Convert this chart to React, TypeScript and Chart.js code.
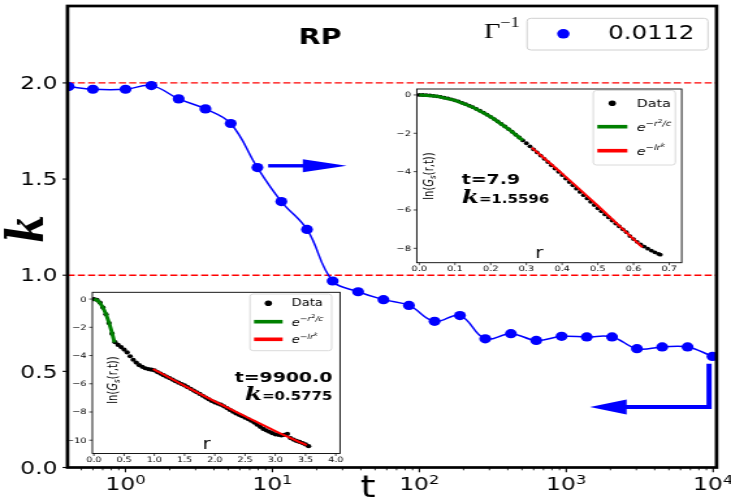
import React, { useEffect, useRef } from "react";
import { Chart, registerables } from "chart.js";
Chart.register(...registerables);

const CSS_W = 731;
const CSS_H = 499;
const W = 562;
const H = 499;
const SANS = "'DejaVu Sans', sans-serif";
const SERIF = "'DejaVu Serif', serif";
const TIMES = "'Liberation Serif', serif";

// ---------------- main panel data ----------------
const times = [0.41, 0.6, 1.0, 1.5, 2.3, 3.5, 5.2, 7.9, 11.5, 17.2, 25.7, 38.3, 57, 85, 127, 189, 281, 420, 625, 930, 1380, 2050, 3030, 4500, 6700, 9900];
const kValues = [1.981, 1.967, 1.967, 1.986, 1.917, 1.865, 1.789, 1.5596, 1.383, 1.238, 0.97, 0.914, 0.873, 0.843, 0.76, 0.79, 0.669, 0.696, 0.661, 0.682, 0.679, 0.679, 0.618, 0.627, 0.627, 0.5775];
const seriesLabel = "0.0112";
const refLevels = [2.0, 1.0];
const mainYTicks = [0, 0.5, 1.0, 1.5, 2.0];
const mainYLabels = ["0.0", "0.5", "1.0", "1.5", "2.0"];
const mainXTicks = [1, 10, 100, 1000, 10000];
const mainXExps = ["0", "1", "2", "3", "4"];
const arrowRight = { t0: 9.35, tBase: 16.1, tTip: 32.0, k: 1.569 };
const arrowBack = { t: 9380, kTop: 0.54, kBottom: 0.314, tBase: 2575, tTip: 1450 };

// ---------------- inset 1 (t = 7.9) ----------------
const in1R = [0, 0.01, 0.02, 0.03, 0.04, 0.05, 0.06, 0.07, 0.08, 0.09, 0.1, 0.11, 0.12, 0.13, 0.14, 0.15, 0.16, 0.17, 0.18, 0.19, 0.2, 0.21, 0.22, 0.23, 0.24, 0.25, 0.26, 0.27, 0.28, 0.29, 0.3, 0.31, 0.32, 0.33, 0.34, 0.35, 0.36, 0.37, 0.38, 0.39, 0.4, 0.41, 0.42, 0.43, 0.44, 0.45, 0.46, 0.47, 0.48, 0.49, 0.5, 0.51, 0.52, 0.53, 0.54, 0.55, 0.56, 0.57, 0.58, 0.59, 0.6, 0.61, 0.62, 0.63, 0.64, 0.65, 0.66, 0.67, 0.675];
const in1G = [0, -0.003, -0.011, -0.026, -0.045, -0.071, -0.1, -0.14, -0.18, -0.23, -0.28, -0.34, -0.41, -0.48, -0.56, -0.64, -0.73, -0.82, -0.92, -1.03, -1.14, -1.26, -1.38, -1.51, -1.64, -1.78, -1.92, -2.07, -2.22, -2.37, -2.52, -2.68, -2.84, -3.0, -3.16, -3.33, -3.5, -3.67, -3.84, -4.01, -4.18, -4.36, -4.54, -4.71, -4.89, -5.06, -5.23, -5.4, -5.57, -5.74, -5.91, -6.07, -6.23, -6.39, -6.55, -6.71, -6.86, -7.01, -7.16, -7.36, -7.52, -7.66, -7.79, -7.91, -8.02, -8.12, -8.21, -8.29, -8.33];
const in1GaussR = [0, 0.05, 0.1, 0.15, 0.2, 0.25, 0.29];
const in1GaussG = [0, -0.07, -0.28, -0.64, -1.14, -1.78, -2.37];
const in1StretchR = [0.315, 0.4, 0.5, 0.625];
const in1StretchG = [-2.75, -4.1, -5.78, -7.95];
const in1XTicks = [0, 0.1, 0.2, 0.3, 0.4, 0.5, 0.6, 0.7];
const in1XLabels = ["0.0", "0.1", "0.2", "0.3", "0.4", "0.5", "0.6", "0.7"];
const in1YTicks = [0, -2, -4, -6, -8];
const in1YLabels = ["0", "\u22122", "\u22124", "\u22126", "\u22128"];
const in1Time = "t=7.9";
const in1K = "=1.5596";

// ---------------- inset 2 (t = 9900) ----------------
const in2R = [0, 0.05, 0.1, 0.15, 0.2, 0.25, 0.3, 0.35, 0.4, 0.45, 0.5, 0.55, 0.6, 0.65, 0.7, 0.75, 0.8, 0.85, 0.9, 0.95, 1.0, 1.05, 1.1, 1.15, 1.2, 1.25, 1.3, 1.35, 1.4, 1.45, 1.5, 1.55, 1.6, 1.65, 1.7, 1.75, 1.8, 1.85, 1.9, 1.95, 2.0, 2.05, 2.1, 2.15, 2.2, 2.25, 2.3, 2.35, 2.4, 2.45, 2.5, 2.55, 2.6, 2.65, 2.7, 2.75, 2.8, 2.85, 2.9, 2.95, 3.0, 3.05, 3.1, 3.15, 3.2, 3.25, 3.3, 3.35, 3.4, 3.45, 3.5, 3.55];
const in2G = [0, -0.05, -0.25, -0.6, -1.08, -1.7, -2.45, -3.05, -3.25, -3.4, -3.58, -3.78, -4.05, -4.3, -4.5, -4.68, -4.8, -4.9, -4.96, -5.0, -5.05, -5.17, -5.28, -5.39, -5.5, -5.6, -5.7, -5.82, -5.92, -6.02, -6.12, -6.24, -6.36, -6.48, -6.6, -6.72, -6.85, -6.98, -7.1, -7.22, -7.32, -7.4, -7.48, -7.6, -7.72, -7.85, -7.98, -8.1, -8.2, -8.3, -8.4, -8.5, -8.62, -8.75, -8.9, -9.05, -9.2, -9.3, -9.4, -9.5, -9.58, -9.62, -9.66, -9.62, -9.55, -9.85, -9.95, -10.05, -10.12, -10.2, -10.3, -10.42];
const in2GaussR = [0, 0.05, 0.1, 0.15, 0.2, 0.25, 0.3, 0.34];
const in2GaussG = [0, -0.07, -0.27, -0.6, -1.06, -1.66, -2.39, -3.07];
const in2StretchR = [0.98, 1.5, 2.0, 2.5, 3.0, 3.52];
const in2StretchG = [-4.95, -6.15, -7.25, -8.3, -9.35, -10.35];
const in2XTicks = [0, 0.5, 1, 1.5, 2, 2.5, 3, 3.5, 4];
const in2XLabels = ["0.0", "0.5", "1.0", "1.5", "2.0", "2.5", "3.0", "3.5", "4.0"];
const in2YTicks = [0, -2, -4, -6, -8, -10];
const in2YLabels = ["0", "\u22122", "\u22124", "\u22126", "\u22128", "\u221210"];
const in2Time = "t=9900.0";
const in2K = "=0.5775";

type Part = { s: string; font: string; dy?: number };

function partsWidth(ctx: CanvasRenderingContext2D, parts: Part[]) {
  let w = 0;
  for (const p of parts) {
    ctx.font = p.font;
    w += ctx.measureText(p.s).width;
  }
  return w;
}

function drawParts(ctx: CanvasRenderingContext2D, parts: Part[], x: number, y: number, align: "left" | "center" | "right") {
  const w = partsWidth(ctx, parts);
  let cx = align === "center" ? x - w / 2 : align === "right" ? x - w : x;
  ctx.textAlign = "left";
  for (const p of parts) {
    ctx.font = p.font;
    ctx.fillText(p.s, cx, y + (p.dy || 0));
    cx += ctx.measureText(p.s).width;
  }
}

function roundRect(ctx: CanvasRenderingContext2D, x: number, y: number, w: number, h: number, r: number) {
  ctx.beginPath();
  ctx.moveTo(x + r, y);
  ctx.lineTo(x + w - r, y);
  ctx.quadraticCurveTo(x + w, y, x + w, y + r);
  ctx.lineTo(x + w, y + h - r);
  ctx.quadraticCurveTo(x + w, y + h, x + w - r, y + h);
  ctx.lineTo(x + r, y + h);
  ctx.quadraticCurveTo(x, y + h, x, y + h - r);
  ctx.lineTo(x, y + r);
  ctx.quadraticCurveTo(x, y, x + r, y);
  ctx.closePath();
}

const mainPlugin = {
  id: "mainDeco",
  beforeDatasetsDraw(chart: any) {
    const { ctx, chartArea: a, scales } = chart;
    ctx.save();
    ctx.beginPath();
    ctx.rect(a.left, a.top, a.right - a.left, a.bottom - a.top);
    ctx.clip();
    ctx.strokeStyle = "#ff0000";
    ctx.lineWidth = 1.4;
    ctx.setLineDash([5.5, 2.4]);
    for (const v of refLevels) {
      const py = scales.y.getPixelForValue(v);
      ctx.beginPath();
      ctx.moveTo(a.left, py);
      ctx.lineTo(a.right, py);
      ctx.stroke();
    }
    ctx.restore();
  },
  afterDatasetsDraw(chart: any) {
    const { ctx, scales } = chart;
    const x = scales.x;
    const y = scales.y;
    ctx.save();
    ctx.fillStyle = "#0000ff";
    ctx.strokeStyle = "#0000ff";
    const ay = y.getPixelForValue(arrowRight.k);
    const x0 = x.getPixelForValue(arrowRight.t0);
    const xb = x.getPixelForValue(arrowRight.tBase);
    const xt = x.getPixelForValue(arrowRight.tTip);
    ctx.lineWidth = 3.4;
    ctx.beginPath();
    ctx.moveTo(x0, ay);
    ctx.lineTo(xb + 1, ay);
    ctx.stroke();
    ctx.beginPath();
    ctx.moveTo(xb, ay - 6.5);
    ctx.lineTo(xt, ay);
    ctx.lineTo(xb, ay + 6.5);
    ctx.closePath();
    ctx.fill();
    const vx = x.getPixelForValue(arrowBack.t);
    const yT = y.getPixelForValue(arrowBack.kTop);
    const yB = y.getPixelForValue(arrowBack.kBottom);
    const hb = x.getPixelForValue(arrowBack.tBase);
    const ht = x.getPixelForValue(arrowBack.tTip);
    ctx.lineWidth = 4;
    ctx.lineJoin = "miter";
    ctx.beginPath();
    ctx.moveTo(vx, yT);
    ctx.lineTo(vx, yB);
    ctx.lineTo(hb - 1, yB);
    ctx.stroke();
    ctx.beginPath();
    ctx.moveTo(hb, yB - 7.5);
    ctx.lineTo(ht, yB);
    ctx.lineTo(hb, yB + 7.5);
    ctx.closePath();
    ctx.fill();
    ctx.restore();
  },
  afterDraw(chart: any) {
    const { ctx, chartArea: a, scales } = chart;
    const x = scales.x;
    const y = scales.y;
    ctx.save();
    ctx.fillStyle = "#000";
    ctx.strokeStyle = "#000";
    ctx.lineWidth = 2.7;
    ctx.strokeRect(a.left, a.top, a.right - a.left, a.bottom - a.top);
    ctx.lineWidth = 1.1;
    ctx.font = `18px ${SANS}`;
    ctx.textAlign = "right";
    ctx.textBaseline = "middle";
    mainYTicks.forEach((v, i) => {
      const py = y.getPixelForValue(v);
      ctx.beginPath();
      ctx.moveTo(a.left - 3.8, py);
      ctx.lineTo(a.left, py);
      ctx.stroke();
      ctx.fillText(mainYLabels[i], a.left - 7.8, py + 1.5);
    });
    ctx.textBaseline = "alphabetic";
    for (let d = 0.1; d <= 10000; d *= 10) {
      for (let m = 2; m <= 9; m++) {
        const v = d * m;
        if (v < x.min || v > x.max) continue;
        const px = x.getPixelForValue(v);
        ctx.lineWidth = 0.8;
        ctx.beginPath();
        ctx.moveTo(px, a.bottom);
        ctx.lineTo(px, a.bottom + 2.8);
        ctx.stroke();
      }
    }
    mainXTicks.forEach((v, i) => {
      const px = x.getPixelForValue(v);
      ctx.lineWidth = 1.1;
      ctx.beginPath();
      ctx.moveTo(px, a.bottom);
      ctx.lineTo(px, a.bottom + 4.8);
      ctx.stroke();
      drawParts(ctx, [
        { s: "10", font: `18px ${SANS}` },
        { s: mainXExps[i], font: `12.6px ${SANS}`, dy: -5.7 },
      ], px, 490, "center");
    });
    ctx.font = `30px ${SANS}`;
    ctx.textAlign = "center";
    ctx.fillText("t", 283, 497);
    ctx.save();
    ctx.translate(22.5, 229);
    ctx.rotate(-Math.PI / 2);
    ctx.font = `bold italic 40px ${SERIF}`;
    ctx.textBaseline = "middle";
    ctx.fillText("k", 0, 0);
    ctx.restore();
    ctx.font = `bold 22px ${SANS}`;
    ctx.textAlign = "center";
    ctx.textBaseline = "middle";
    ctx.fillText("RP", 246, 38);
    ctx.textBaseline = "alphabetic";
    roundRect(ctx, 405.2, 18.3, 139.1, 31.7, 3);
    ctx.fillStyle = "rgba(255,255,255,0.8)";
    ctx.fill();
    ctx.strokeStyle = "#d0d0d0";
    ctx.lineWidth = 1;
    ctx.stroke();
    ctx.fillStyle = "#0000ff";
    ctx.beginPath();
    ctx.arc(433.1, 33.8, 4.8, 0, Math.PI * 2);
    ctx.fill();
    ctx.fillStyle = "#000";
    ctx.font = `19px ${SANS}`;
    ctx.textAlign = "left";
    ctx.textBaseline = "middle";
    ctx.fillText(seriesLabel, 467.4, 34.5);
    ctx.textBaseline = "alphabetic";
    drawParts(ctx, [
      { s: "\u0393", font: `22px ${TIMES}` },
      { s: "\u22121", font: `14px ${TIMES}`, dy: -10.5 },
    ], 372, 37.5, "left");
    ctx.restore();
  },
};

type InsetCfg = {
  id: string;
  xTicks: number[];
  xLabels: string[];
  yTicks: number[];
  yLabels: string[];
  tickFont: number;
  rLabel: [number, number];
  lnLabel: [number, number];
  legend: { x: number; y: number; w: number; h: number; rows: number[]; mx: number; lx0: number; lx1: number; tx: number; font: number };
  tText: { s: string; x: number; y: number; align: "left" | "right"; font: number };
  kText: { s: string; x: number; y: number; kFont: number; vFont: number; align: "left" | "right" };
};

function makeInsetPlugin(c: InsetCfg) {
  return {
    id: c.id,
    beforeDatasetsDraw(chart: any) {
      const { ctx, chartArea: a } = chart;
      ctx.save();
      ctx.fillStyle = "#fff";
      ctx.fillRect(a.left, a.top, a.right - a.left, a.bottom - a.top);
      ctx.restore();
    },
    afterDraw(chart: any) {
      const { ctx, chartArea: a, scales } = chart;
      const x = scales.x;
      const y = scales.y;
      ctx.save();
      ctx.strokeStyle = "#000";
      ctx.fillStyle = "#000";
      ctx.lineWidth = 0.9;
      ctx.strokeRect(a.left, a.top, a.right - a.left, a.bottom - a.top);
      ctx.font = `${c.tickFont}px ${SANS}`;
      ctx.lineWidth = 0.7;
      ctx.textAlign = "center";
      ctx.textBaseline = "top";
      c.xTicks.forEach((v, i) => {
        const px = x.getPixelForValue(v);
        ctx.beginPath();
        ctx.moveTo(px, a.bottom);
        ctx.lineTo(px, a.bottom + 2.5);
        ctx.stroke();
        ctx.fillText(c.xLabels[i], px, a.bottom + 3);
      });
      ctx.textAlign = "right";
      ctx.textBaseline = "middle";
      c.yTicks.forEach((v, i) => {
        const py = y.getPixelForValue(v);
        ctx.beginPath();
        ctx.moveTo(a.left - 2.5, py);
        ctx.lineTo(a.left, py);
        ctx.stroke();
        ctx.fillText(c.yLabels[i], a.left - 4.5, py + 0.5);
      });
      ctx.textBaseline = "alphabetic";
      ctx.textAlign = "center";
      ctx.font = `15px ${SANS}`;
      ctx.fillText("r", c.rLabel[0], c.rLabel[1]);
      ctx.save();
      ctx.translate(c.lnLabel[0], c.lnLabel[1]);
      ctx.rotate(-Math.PI / 2);
      drawParts(ctx, [
        { s: "ln(", font: `10px ${SANS}` },
        { s: "G", font: `italic 10px ${SANS}` },
        { s: "s", font: `italic 7px ${SANS}`, dy: 2 },
        { s: "(", font: `10px ${SANS}` },
        { s: "r", font: `10px ${SANS}` },
        { s: ",", font: `10px ${SANS}` },
        { s: "t", font: `10px ${SANS}` },
        { s: "))", font: `10px ${SANS}` },
      ], 0, 3.5, "center");
      ctx.restore();
      const L = c.legend;
      roundRect(ctx, L.x, L.y, L.w, L.h, 2.5);
      ctx.fillStyle = "rgba(255,255,255,0.85)";
      ctx.fill();
      ctx.strokeStyle = "#d0d0d0";
      ctx.lineWidth = 0.8;
      ctx.stroke();
      ctx.fillStyle = "#000";
      ctx.beginPath();
      ctx.arc(L.mx, L.rows[0], 2.8, 0, Math.PI * 2);
      ctx.fill();
      ctx.lineWidth = 3.6;
      ctx.strokeStyle = "#008000";
      ctx.beginPath();
      ctx.moveTo(L.lx0, L.rows[1]);
      ctx.lineTo(L.lx1, L.rows[1]);
      ctx.stroke();
      ctx.strokeStyle = "#ff0000";
      ctx.beginPath();
      ctx.moveTo(L.lx0, L.rows[2]);
      ctx.lineTo(L.lx1, L.rows[2]);
      ctx.stroke();
      ctx.fillStyle = "#000";
      const f = L.font;
      ctx.textBaseline = "middle";
      ctx.font = `${f}px ${SANS}`;
      ctx.textAlign = "left";
      ctx.fillText("Data", L.tx, L.rows[0] + 0.5);
      ctx.textBaseline = "alphabetic";
      drawParts(ctx, [
        { s: "e", font: `italic ${f}px ${SANS}` },
        { s: "\u2212r", font: `italic ${f * 0.7}px ${SANS}`, dy: -f * 0.45 },
        { s: "2", font: `${f * 0.5}px ${SANS}`, dy: -f * 0.75 },
        { s: "/c", font: `italic ${f * 0.7}px ${SANS}`, dy: -f * 0.45 },
      ], L.tx, L.rows[1] + f * 0.38, "left");
      drawParts(ctx, [
        { s: "e", font: `italic ${f}px ${SANS}` },
        { s: "\u2212lr", font: `italic ${f * 0.7}px ${SANS}`, dy: -f * 0.45 },
        { s: "k", font: `italic ${f * 0.5}px ${SANS}`, dy: -f * 0.75 },
      ], L.tx, L.rows[2] + f * 0.38, "left");
      const T = c.tText;
      ctx.font = `bold ${T.font}px ${SANS}`;
      ctx.textAlign = T.align;
      ctx.fillText(T.s, T.x, T.y);
      const K = c.kText;
      drawParts(ctx, [
        { s: "k", font: `bold italic ${K.kFont}px ${SERIF}` },
        { s: K.s, font: `bold ${K.vFont}px ${SANS}` },
      ], K.x, K.y, K.align);
      ctx.restore();
    },
  };
}

function pts(xs: number[], ys: number[]) {
  return xs.map((v, i) => ({ x: v, y: ys[i] }));
}

function insetConfig(opts: {
  dots: { x: number; y: number }[];
  gauss: { x: number; y: number }[];
  stretch: { x: number; y: number }[];
  area: { left: number; right: number; top: number; bottom: number };
  xRange: [number, number];
  yRange: [number, number];
  dotR: number;
  plugin: any;
}) {
  const { area } = opts;
  return {
    type: "scatter" as const,
    data: {
      datasets: [
        { data: opts.gauss, showLine: true, borderColor: "#008000", borderWidth: 3, pointRadius: 0, tension: 0 },
        { data: opts.stretch, showLine: true, borderColor: "#ff0000", borderWidth: 2, pointRadius: 0, tension: 0.3 },
        { data: opts.dots, showLine: false, pointRadius: opts.dotR, pointBorderWidth: 0, backgroundColor: "#000", borderColor: "#000" },
      ],
    },
    options: {
      animation: false as const,
      responsive: false,
      devicePixelRatio: 1,
      events: [],
      layout: { padding: { left: area.left, top: area.top, right: W - area.right, bottom: H - area.bottom } },
      scales: {
        x: { type: "linear" as const, min: opts.xRange[0], max: opts.xRange[1], display: false },
        y: { type: "linear" as const, min: opts.yRange[0], max: opts.yRange[1], display: false },
      },
      plugins: { legend: { display: false }, tooltip: { enabled: false } },
    },
    plugins: [opts.plugin],
  };
}

const canvasStyle: React.CSSProperties = {
  position: "absolute",
  left: 0,
  top: 0,
  width: `${CSS_W}px`,
  height: `${CSS_H}px`,
  pointerEvents: "none",
};

export default function App() {
  const mainRef = useRef<HTMLCanvasElement>(null);
  const in1Ref = useRef<HTMLCanvasElement>(null);
  const in2Ref = useRef<HTMLCanvasElement>(null);

  useEffect(() => {
    const charts: Chart[] = [];
    if (mainRef.current) {
      charts.push(
        new Chart(mainRef.current, {
          type: "line",
          data: {
            datasets: [
              {
                data: pts(times, kValues),
                borderColor: "#0000ff",
                backgroundColor: "#0000ff",
                borderWidth: 1.5,
                pointRadius: 4.6,
                pointBorderWidth: 0,
                pointBackgroundColor: "#0000ff",
                tension: 0.4,
                clip: 0,
              } as any,
            ],
          },
          options: {
            animation: false,
            responsive: false,
            devicePixelRatio: 1,
            events: [],
            layout: { padding: { left: 51.9, top: 6, right: 11.1, bottom: 31.5 } },
            scales: {
              x: { type: "logarithmic", min: 0.403, max: 10550, display: false },
              y: { type: "linear", min: 0, max: 2.4, display: false },
            },
            plugins: { legend: { display: false }, tooltip: { enabled: false } },
          },
          plugins: [mainPlugin],
        })
      );
    }
    if (in1Ref.current) {
      const plugin = makeInsetPlugin({
        id: "inset1",
        xTicks: in1XTicks,
        xLabels: in1XLabels,
        yTicks: in1YTicks,
        yLabels: in1YLabels,
        tickFont: 7.5,
        rLabel: [414.6, 258],
        lnLabel: [329, 176],
        legend: { x: 456.1, y: 90.5, w: 63.1, h: 74.5, rows: [103.3, 126.7, 150.7], mx: 470.7, lx0: 459.2, lx1: 482.3, tx: 489.5, font: 11 },
        tText: { s: in1Time, x: 355, y: 183.5, align: "left", font: 14.5 },
        kText: { s: in1K, x: 355, y: 202.5, kFont: 19, vFont: 11.5, align: "left" },
      });
      charts.push(
        new Chart(
          in1Ref.current,
          insetConfig({
            dots: pts(in1R, in1G),
            gauss: pts(in1GaussR, in1GaussG),
            stretch: pts(in1StretchR, in1StretchG),
            area: { left: 320.4, right: 524.1, top: 89, bottom: 262.7 },
            xRange: [-0.007, 0.735],
            yRange: [-8.75, 0.31],
            dotR: 1.9,
            plugin,
          }) as any
        )
      );
    }
    if (in2Ref.current) {
      const plugin = makeInsetPlugin({
        id: "inset2",
        xTicks: in2XTicks,
        xLabels: in2XLabels,
        yTicks: in2YTicks,
        yLabels: in2YLabels,
        tickFont: 7.5,
        rLabel: [158.9, 449],
        lnLabel: [86, 380],
        legend: { x: 192.2, y: 294, w: 62.8, h: 56.7, rows: [303.3, 321.7, 339.3], mx: 206.3, lx0: 195.3, lx1: 217.3, tx: 224.3, font: 10 },
        tText: { s: in2Time, x: 255.5, y: 382, align: "right", font: 14.5 },
        kText: { s: in2K, x: 255.5, y: 399.5, kFont: 19, vFont: 11.5, align: "right" },
      });
      charts.push(
        new Chart(
          in2Ref.current,
          insetConfig({
            dots: pts(in2R, in2G),
            gauss: pts(in2GaussR, in2GaussG),
            stretch: pts(in2StretchR, in2StretchG),
            area: { left: 71.0, right: 261.4, top: 292.3, bottom: 453.5 },
            xRange: [-0.025, 4.07],
            yRange: [-10.94, 0.48],
            dotR: 2.1,
            plugin,
          }) as any
        )
      );
    }
    return () => {
      charts.forEach((c) => c.destroy());
    };
  }, []);

  return (
    <div style={{ position: "absolute", left: 0, top: 0, width: CSS_W, height: CSS_H, background: "#fff", overflow: "hidden" }}>
      <canvas ref={mainRef} width={W} height={H} style={canvasStyle} />
      <canvas ref={in1Ref} width={W} height={H} style={canvasStyle} />
      <canvas ref={in2Ref} width={W} height={H} style={canvasStyle} />
    </div>
  );
}
